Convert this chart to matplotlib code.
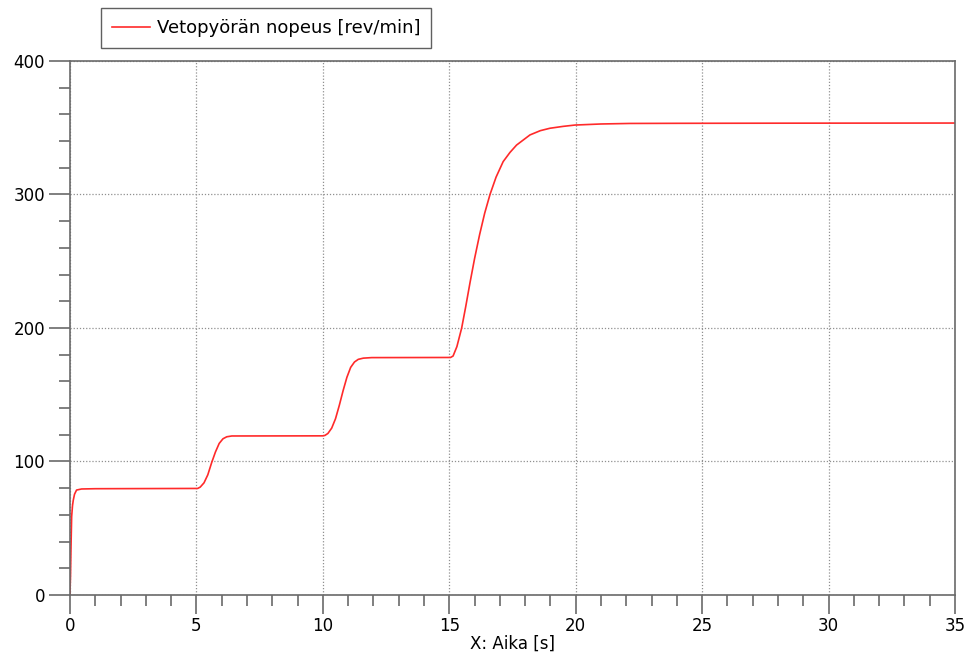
import matplotlib.pyplot as plt
from matplotlib.ticker import MultipleLocator

# Simulated drive wheel speed, read off the recorded run
time_s = [0.0, 0.01, 0.02, 0.04, 0.066, 0.10, 0.13, 0.18, 0.26, 0.46, 1.0,
          5.05, 5.15, 5.3, 5.45, 5.6, 5.75, 5.9, 6.05, 6.2, 6.4, 10.0,
          10.08, 10.2, 10.35, 10.5, 10.65, 10.8, 10.95, 11.1, 11.25, 11.4, 11.6, 11.93, 15.05,
          15.15, 15.3, 15.49, 15.65, 15.82, 16.0, 16.2, 16.4, 16.61, 16.85, 17.13, 17.4, 17.66,
          18.19, 18.6, 18.98, 19.5, 19.97, 21.0, 22.14, 24.1, 28.0, 35.0]
speed_rpm = [0.0, 8.0, 14.0, 36.0, 58.7, 67.0, 71.0, 75.5, 78.6, 79.4, 79.6,
             79.8, 80.8, 84.0, 90.0, 99.0, 107.0, 113.5, 117.0, 118.5, 119.1, 119.2,
             119.5, 121.0, 125.0, 132.0, 142.0, 153.0, 163.0, 170.5, 174.5, 176.5, 177.4, 177.8, 177.9,
             179.0, 186.0, 200.0, 216.0, 234.0, 252.0, 270.0, 286.0, 300.0, 313.0, 324.6, 331.5, 337.0,
             344.6, 347.8, 349.6, 351.0, 352.0, 352.8, 353.2, 353.3, 353.4, 353.5]

fig = plt.figure(figsize=(9.68, 6.57), dpi=100)
ax = fig.add_axes([0.0723, 0.0944, 0.9143, 0.8128])

line, = ax.plot(time_s, speed_rpm, color='#ff2a2a', lw=1.2,
                label='Vetopyörän nopeus [rev/min]')

ax.set_xlim(0, 35)
ax.set_ylim(0, 400)
ax.xaxis.set_major_locator(MultipleLocator(5))
ax.xaxis.set_minor_locator(MultipleLocator(1))
ax.yaxis.set_major_locator(MultipleLocator(100))
ax.yaxis.set_minor_locator(MultipleLocator(20))

axis_col = '#6a6a6a'
for sp in ax.spines.values():
    sp.set_color(axis_col)
    sp.set_linewidth(1.2)
ax.tick_params(which='major', direction='out', length=15, width=1.2,
               color=axis_col, labelsize=12, pad=3)
ax.tick_params(which='minor', direction='out', length=8, width=1.2, color=axis_col)
ax.tick_params(axis='x', which='major', length=14, pad=2)

ax.grid(True, which='major', color='#909090', linestyle=(0, (1, 1.5)), linewidth=0.9)
ax.set_axisbelow(True)

ax.set_xlabel('X: Aika [s]', fontsize=12, labelpad=0)

fig.legend(handles=[line], loc='upper left', bbox_to_anchor=(101 / 968, 1 - 8 / 657),
           fontsize=13, frameon=True, fancybox=False, edgecolor='#606060',
           framealpha=1, handlelength=2.1, handletextpad=0.4, borderpad=0.6,
           borderaxespad=0)

fig.savefig('out.png', dpi=100)
plt.close(fig)
